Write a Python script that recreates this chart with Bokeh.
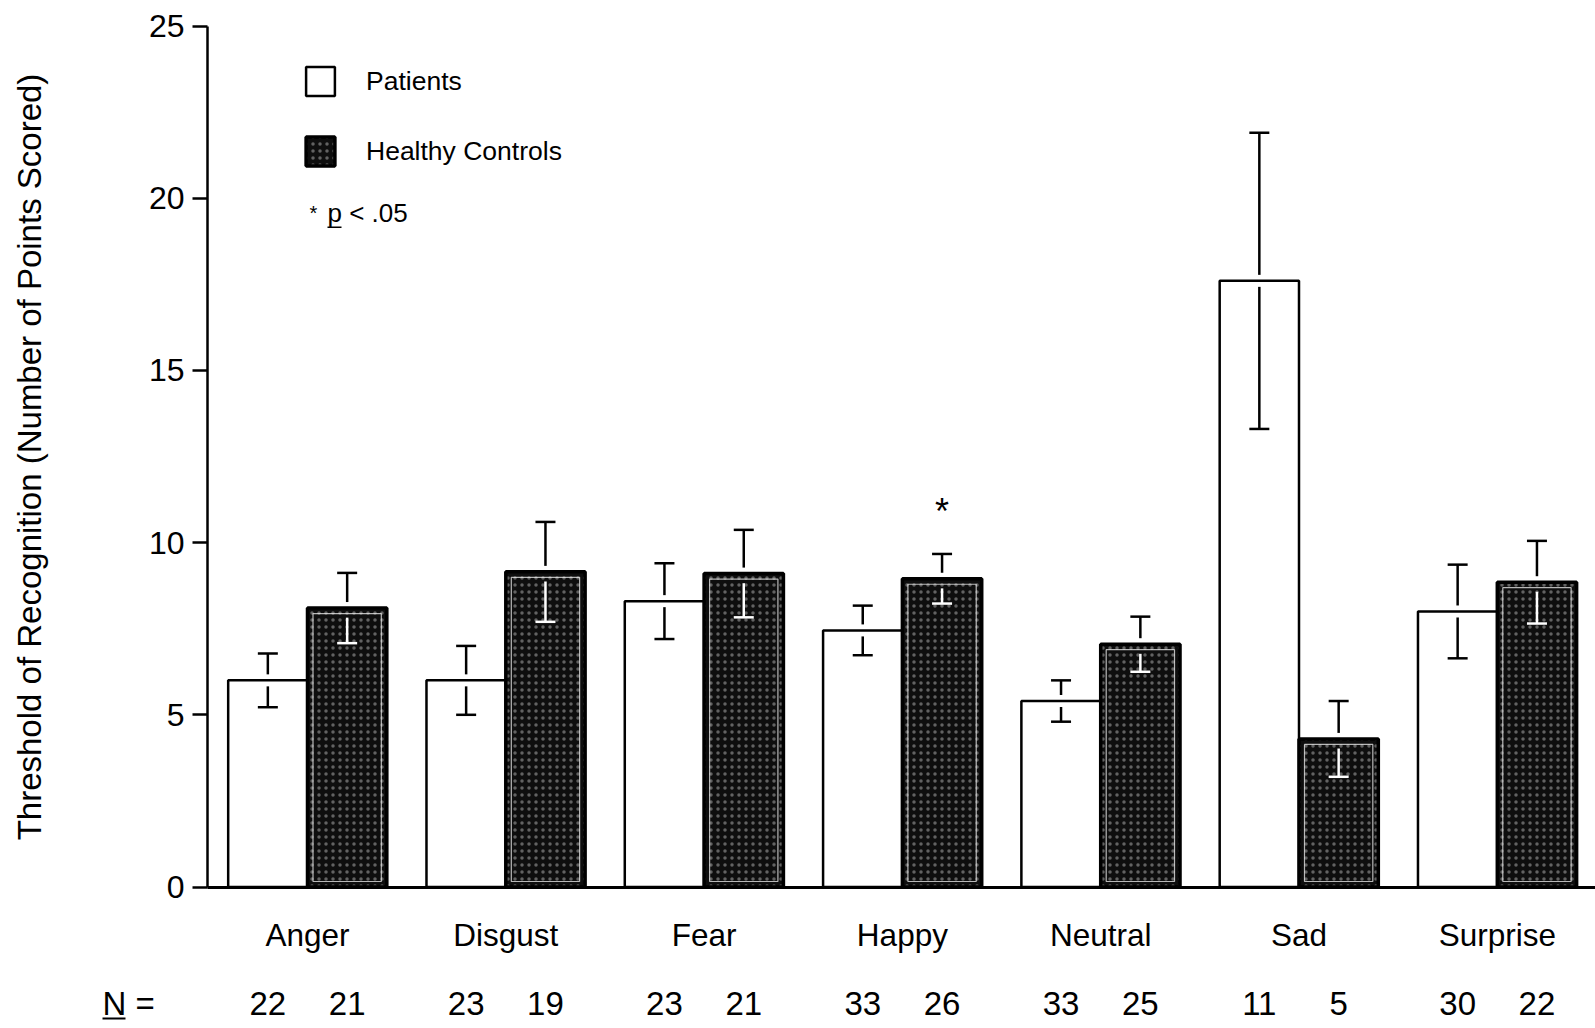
from bokeh.plotting import figure
from bokeh.models import Range1d, LinearAxis, FixedTicker, Legend, LegendItem, ColumnDataSource
from bokeh.core.properties import value
from bokeh.embed import file_html
from bokeh.resources import INLINE
import numpy as np

# ---------------- data ----------------
emotions = ["Anger", "Disgust", "Fear", "Happy", "Neutral", "Sad", "Surprise"]
patients_mean = [6.0, 6.0, 8.3, 7.45, 5.4, 17.6, 8.0]
patients_se = [0.78, 1.0, 1.1, 0.72, 0.6, 4.3, 1.36]
controls_mean = [8.1, 9.15, 9.1, 8.95, 7.05, 4.3, 8.85]
controls_se = [1.02, 1.45, 1.27, 0.72, 0.8, 1.1, 1.2]
patients_n = [22, 23, 23, 33, 33, 11, 30]
controls_n = [21, 19, 21, 26, 25, 5, 22]
significant = [False, False, False, True, False, False, False]
y_ticks = [0, 5, 10, 15, 20, 25]
series_labels = ["Patients", "Healthy Controls"]
y_title = "Threshold of Recognition (Number of Points Scored)"

# ---------------- layout (canvas pixels) ----------------
W, H = 1595, 1028
PX_X = 198.3      # pixels per category group
PX_Y = 34.44      # pixels per y unit
ZERO_PY = 886.5   # canvas y of value 0
FIRST_PX = 307    # canvas x of first group centre
X0 = -FIRST_PX / PX_X
X1 = X0 + W / PX_X
Y1 = ZERO_PY / PX_Y
Y0 = -(H - ZERO_PY) / PX_Y


def sx(px):
    return X0 + px / PX_X


def sy(py):
    return (ZERO_PY - py) / PX_Y


FONT = "Liberation Sans"
AXIS_X = sx(207)

p = figure(width=W, height=H, x_range=Range1d(X0, X1), y_range=Range1d(Y0, Y1),
           x_axis_location=None, y_axis_location=None, min_border=0,
           outline_line_color=None, output_backend="svg", toolbar_location=None)
p.grid.visible = False
p.background_fill_color = "white"

yaxis = LinearAxis(fixed_location=AXIS_X, bounds=(0, 25), ticker=FixedTicker(ticks=y_ticks),
                   axis_label=y_title)
yaxis.axis_line_width = 2.5
yaxis.major_tick_line_width = 2.5
yaxis.major_tick_out = 15
yaxis.major_tick_in = 0
yaxis.minor_tick_out = 0
yaxis.minor_tick_in = 0
yaxis.major_label_standoff = 8
yaxis.major_label_text_font = FONT
yaxis.major_label_text_font_size = "32px"
yaxis.major_label_text_color = "black"
yaxis.axis_label_text_font = FONT
yaxis.axis_label_text_font_size = "33px"
yaxis.axis_label_text_font_style = "normal"
yaxis.axis_label_text_color = "black"
yaxis.axis_label_standoff = 98
p.add_layout(yaxis, "left")

xaxis = LinearAxis(fixed_location=0, bounds=(AXIS_X, X1), ticker=FixedTicker(ticks=[]))
xaxis.axis_line_width = 3
xaxis.major_tick_out = 0
xaxis.minor_tick_out = 0
xaxis.major_label_text_font_size = "0px"
p.add_layout(xaxis, "below")

idx = np.arange(len(emotions))
xp = idx - 0.2
xc = idx + 0.2
pm = np.array(patients_mean)
ps = np.array(patients_se)
cm = np.array(controls_mean)
cs = np.array(controls_se)

BW = 0.40
GAP = 6 / PX_Y
CAP = 10 / PX_X

rp = p.vbar(x=xp, width=BW, top=pm, bottom=0, fill_color="white",
            line_color="black", line_width=2.5)
rc = p.vbar(x=xc, width=BW, top=cm, bottom=0, fill_color="#0e0e0e",
            line_color="black", line_width=3.5, hatch_pattern="dot",
            hatch_color="white", hatch_alpha=0.35, hatch_scale=7, hatch_weight=0.8)
p.vbar(x=xc, width=BW - 11 / PX_X, top=cm - 5.5 / PX_Y, bottom=5.5 / PX_Y,
       fill_alpha=0, line_color="white", line_width=1.2, line_alpha=0.7)

# error bars, patients
p.segment(x0=xp, y0=pm + GAP, x1=xp, y1=pm + ps, line_color="black", line_width=2.5)
p.segment(x0=xp - CAP, y0=pm + ps, x1=xp + CAP, y1=pm + ps, line_color="black", line_width=2.5)
p.segment(x0=xp, y0=pm - GAP, x1=xp, y1=pm - ps, line_color="black", line_width=2.5)
p.segment(x0=xp - CAP, y0=pm - ps, x1=xp + CAP, y1=pm - ps, line_color="black", line_width=2.5)
# error bars, controls
p.segment(x0=xc, y0=cm + GAP, x1=xc, y1=cm + cs, line_color="black", line_width=2.5)
p.segment(x0=xc - CAP, y0=cm + cs, x1=xc + CAP, y1=cm + cs, line_color="black", line_width=2.5)
p.segment(x0=xc, y0=cm - 1.6 * GAP, x1=xc, y1=cm - cs, line_color="white", line_width=2.5)
p.segment(x0=xc - CAP, y0=cm - cs, x1=xc + CAP, y1=cm - cs, line_color="white", line_width=2.5)

# significance marks
sig = np.array(significant)
p.text(x=xc[sig], y=(cm + cs)[sig] + 42 / PX_Y, text=["*"] * int(sig.sum()),
       text_font=value(FONT), text_font_size="36px", text_align="center",
       text_baseline="alphabetic", text_color="black")

# category labels
p.text(x=idx, y=[sy(934)] * len(idx), text=emotions, text_font=value(FONT),
       text_font_size="31.5px", text_align="center", text_baseline="alphabetic",
       text_color="black")

# N row
n_src = ColumnDataSource(dict(x=np.concatenate([xp, xc]),
                              y=[sy(1002.5)] * (2 * len(idx)),
                              t=[str(v) for v in patients_n + controls_n]))
p.text(x="x", y="y", text="t", source=n_src, text_font=value(FONT),
       text_font_size="33px", text_align="center", text_baseline="alphabetic",
       text_color="black")
p.text(x=[sx(102)], y=[sy(1002.5)], text=["N ="], text_font=value(FONT),
       text_font_size="33px", text_align="left", text_baseline="alphabetic",
       text_color="black")
p.segment(x0=[sx(102)], y0=[sy(1018)], x1=[sx(125)], y1=[sy(1018)], line_color="black", line_width=2)

# p-value note
p.text(x=[sx(313)], y=[sy(212.4)], text=["*"], text_font=value(FONT), text_font_size="20px",
       text_align="center", text_baseline="alphabetic", text_color="black")
p.text(x=[sx(327)], y=[sy(212)], text=["p < .05"], text_font=value(FONT),
       text_font_size="26px", text_align="left", text_baseline="alphabetic", text_color="black")
p.segment(x0=[sx(327)], y0=[sy(226.7)], x1=[sx(341)], y1=[sy(226.7)], line_color="black", line_width=1.5)

# legend
legend = Legend(items=[LegendItem(label=series_labels[0], renderers=[rp]),
                       LegendItem(label=series_labels[1], renderers=[rc])],
                location=(302, 859), orientation="vertical",
                glyph_width=36, glyph_height=36, label_height=36,
                label_standoff=28, spacing=34, padding=0, margin=0,
                border_line_color=None, background_fill_alpha=0,
                label_text_font=FONT, label_text_font_size="26.5px",
                label_text_color="black")
p.add_layout(legend)

open("out.html", "w").write(file_html(p, INLINE))
